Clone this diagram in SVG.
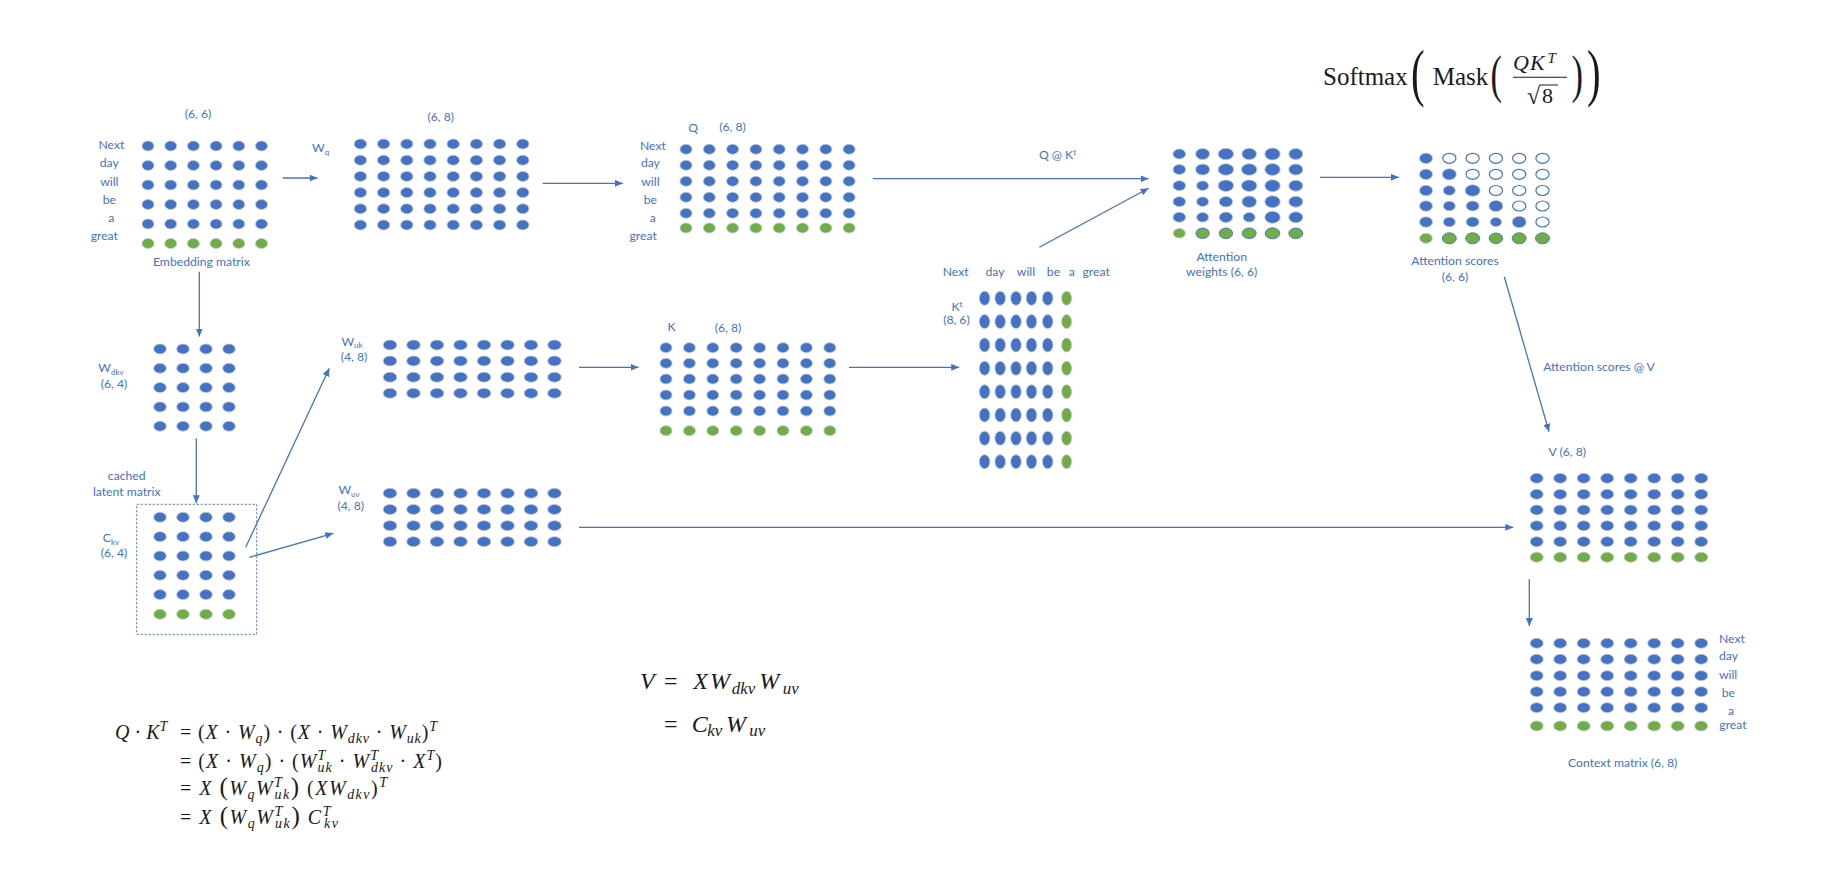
<svg xmlns="http://www.w3.org/2000/svg" xmlns:xlink="http://www.w3.org/1999/xlink" width="1833" height="883" viewBox="0 0 1833 883">
<style>
.t{font-family:Lato,"Open Sans","Liberation Sans",sans-serif;font-size:12.2px;fill:#4472C4}
.tm{text-anchor:middle}
.b{fill:#4472C4;stroke:#c3c8d0;stroke-width:.8}
.g{fill:#70AD47;stroke:#c3c8d0;stroke-width:.8}
.gb{fill:#70AD47;stroke:#4472C4;stroke-width:.9}
.o{fill:#fff;stroke:#4472C4;stroke-width:1.2}
.m{font-family:"Liberation Serif","DejaVu Serif",serif;fill:#1a1a1a}
.i{font-style:italic}
.c{stroke:#4472C4;stroke-width:1.3;fill:none;marker-end:url(#ah)}
</style>
<defs>
<marker id="ah" viewBox="0 0 8 7" refX="8" refY="3.5" markerWidth="8" markerHeight="7" markerUnits="userSpaceOnUse" orient="auto"><path d="M0,0 L8,3.5 L0,7 z" fill="#4472C4"/></marker>
<g id="e6"><ellipse cx="148" cy="0" rx="6" ry="5"/><ellipse cx="170.7" cy="0" rx="6" ry="5"/><ellipse cx="193.4" cy="0" rx="6" ry="5"/><ellipse cx="216.1" cy="0" rx="6" ry="5"/><ellipse cx="238.8" cy="0" rx="6" ry="5"/><ellipse cx="261.5" cy="0" rx="6" ry="5"/></g>
<g id="wq8"><ellipse cx="360.4" cy="0" rx="6.2" ry="5"/><ellipse cx="383.6" cy="0" rx="6.2" ry="5"/><ellipse cx="406.8" cy="0" rx="6.2" ry="5"/><ellipse cx="430" cy="0" rx="6.2" ry="5"/><ellipse cx="453.2" cy="0" rx="6.2" ry="5"/><ellipse cx="476.4" cy="0" rx="6.2" ry="5"/><ellipse cx="499.6" cy="0" rx="6.2" ry="5"/><ellipse cx="522.8" cy="0" rx="6.2" ry="5"/></g>
<g id="q8"><ellipse cx="686" cy="0" rx="6" ry="5"/><ellipse cx="709.3" cy="0" rx="6" ry="5"/><ellipse cx="732.6" cy="0" rx="6" ry="5"/><ellipse cx="755.9" cy="0" rx="6" ry="5"/><ellipse cx="779.2" cy="0" rx="6" ry="5"/><ellipse cx="802.5" cy="0" rx="6" ry="5"/><ellipse cx="825.8" cy="0" rx="6" ry="5"/><ellipse cx="849.1" cy="0" rx="6" ry="5"/></g>
<g id="d4"><ellipse cx="160" cy="0" rx="6.3" ry="5"/><ellipse cx="183" cy="0" rx="6.3" ry="5"/><ellipse cx="206" cy="0" rx="6.3" ry="5"/><ellipse cx="229" cy="0" rx="6.3" ry="5"/></g>
<g id="u8"><ellipse cx="390" cy="0" rx="6.8" ry="5"/><ellipse cx="413.5" cy="0" rx="6.8" ry="5"/><ellipse cx="437" cy="0" rx="6.8" ry="5"/><ellipse cx="460.5" cy="0" rx="6.8" ry="5"/><ellipse cx="484" cy="0" rx="6.8" ry="5"/><ellipse cx="507.5" cy="0" rx="6.8" ry="5"/><ellipse cx="531" cy="0" rx="6.8" ry="5"/><ellipse cx="554.5" cy="0" rx="6.8" ry="5"/></g>
<g id="k8"><ellipse cx="666" cy="0" rx="6" ry="5"/><ellipse cx="689.4" cy="0" rx="6" ry="5"/><ellipse cx="712.8" cy="0" rx="6" ry="5"/><ellipse cx="736.2" cy="0" rx="6" ry="5"/><ellipse cx="759.6" cy="0" rx="6" ry="5"/><ellipse cx="783" cy="0" rx="6" ry="5"/><ellipse cx="806.4" cy="0" rx="6" ry="5"/><ellipse cx="829.8" cy="0" rx="6" ry="5"/></g>
<g id="kt5"><ellipse cx="984.6" cy="0" rx="5.3" ry="7"/><ellipse cx="1000.2" cy="0" rx="5.3" ry="7"/><ellipse cx="1016" cy="0" rx="5.3" ry="7"/><ellipse cx="1031.5" cy="0" rx="5.3" ry="7"/><ellipse cx="1047.7" cy="0" rx="5.3" ry="7"/></g>
<g id="v8"><ellipse cx="1536.7" cy="0" rx="6.5" ry="5"/><ellipse cx="1560.2" cy="0" rx="6.5" ry="5"/><ellipse cx="1583.7" cy="0" rx="6.5" ry="5"/><ellipse cx="1607.2" cy="0" rx="6.5" ry="5"/><ellipse cx="1630.7" cy="0" rx="6.5" ry="5"/><ellipse cx="1654.2" cy="0" rx="6.5" ry="5"/><ellipse cx="1677.7" cy="0" rx="6.5" ry="5"/><ellipse cx="1701.2" cy="0" rx="6.5" ry="5"/></g>
</defs>

<rect width="1833" height="883" fill="#fff"/>

<g id="embedding">
<text class="t tm" x="198" y="118">(6, 6)</text>
<text class="t tm" x="111.4" y="149">Next</text>
<text class="t tm" x="109.3" y="167">day</text>
<text class="t tm" x="109.3" y="186">will</text>
<text class="t tm" x="109.3" y="204">be</text>
<text class="t tm" x="111.4" y="222">a</text>
<text class="t tm" x="104.3" y="240">great</text>
<use href="#e6" y="146" class="b"/><use href="#e6" y="165.5" class="b"/><use href="#e6" y="185" class="b"/><use href="#e6" y="204.5" class="b"/><use href="#e6" y="224" class="b"/><use href="#e6" y="243.5" class="g"/>
<text class="t tm" x="201.4" y="265.7">Embedding matrix</text>
</g>

<g id="wq">
<text class="t" x="312" y="152">W<tspan font-size="8" dy="2.5">q</tspan></text>
<text class="t tm" x="440.7" y="121">(6, 8)</text>
<use href="#wq8" y="144" class="b"/><use href="#wq8" y="160.2" class="b"/><use href="#wq8" y="176.4" class="b"/><use href="#wq8" y="192.6" class="b"/><use href="#wq8" y="208.8" class="b"/><use href="#wq8" y="225" class="b"/>
</g>

<g id="q">
<text class="t tm" x="693.2" y="132">Q</text>
<text class="t tm" x="732.5" y="131">(6, 8)</text>
<text class="t tm" x="652.9" y="150">Next</text>
<text class="t tm" x="650.4" y="167">day</text>
<text class="t tm" x="650.4" y="185.7">will</text>
<text class="t tm" x="650.4" y="204">be</text>
<text class="t tm" x="652.9" y="222">a</text>
<text class="t tm" x="643.2" y="240">great</text>
<use href="#q8" y="149.3" class="b"/><use href="#q8" y="165.3" class="b"/><use href="#q8" y="181.3" class="b"/><use href="#q8" y="197.3" class="b"/><use href="#q8" y="213.3" class="b"/><use href="#q8" y="228" class="g"/>
</g>

<g id="attention-weights">
<ellipse class="b" cx="1179.3" cy="154" rx="6.3" ry="5"/><ellipse class="b" cx="1202.6" cy="154" rx="7" ry="5.5"/><ellipse class="b" cx="1225.9" cy="154" rx="7.7" ry="5.8"/><ellipse class="b" cx="1249.2" cy="154" rx="7.3" ry="5.8"/><ellipse class="b" cx="1272.5" cy="154" rx="7.7" ry="6"/><ellipse class="b" cx="1295.8" cy="154" rx="7" ry="5.5"/>
<ellipse class="b" cx="1179.3" cy="169.5" rx="6.3" ry="5"/><ellipse class="b" cx="1202.6" cy="169.5" rx="7" ry="5.5"/><ellipse class="b" cx="1225.9" cy="169.5" rx="7.7" ry="5.8"/><ellipse class="b" cx="1249.2" cy="169.5" rx="7.7" ry="5.8"/><ellipse class="b" cx="1272.5" cy="169.5" rx="7.7" ry="6"/><ellipse class="b" cx="1295.8" cy="169.5" rx="7" ry="5.5"/>
<ellipse class="b" cx="1179.3" cy="185.7" rx="6.3" ry="5"/><ellipse class="b" cx="1202.6" cy="185.7" rx="6" ry="4.8"/><ellipse class="b" cx="1225.9" cy="185.7" rx="7.7" ry="5.8"/><ellipse class="b" cx="1249.2" cy="185.7" rx="7.7" ry="5.8"/><ellipse class="b" cx="1272.5" cy="185.7" rx="7.7" ry="6"/><ellipse class="b" cx="1295.8" cy="185.7" rx="7" ry="5.5"/>
<ellipse class="b" cx="1179.3" cy="201.7" rx="6.3" ry="5"/><ellipse class="b" cx="1202.6" cy="201.7" rx="6" ry="4.8"/><ellipse class="b" cx="1225.9" cy="201.7" rx="6.7" ry="5.2"/><ellipse class="b" cx="1249.2" cy="201.7" rx="7.3" ry="5.8"/><ellipse class="b" cx="1272.5" cy="201.7" rx="7.7" ry="6"/><ellipse class="b" cx="1295.8" cy="201.7" rx="7" ry="5.5"/>
<ellipse class="b" cx="1179.3" cy="217.3" rx="6.3" ry="5"/><ellipse class="b" cx="1202.6" cy="217.3" rx="6" ry="4.8"/><ellipse class="b" cx="1225.9" cy="217.3" rx="6.7" ry="5.2"/><ellipse class="b" cx="1249.2" cy="217.3" rx="6" ry="4.8"/><ellipse class="b" cx="1272.5" cy="217.3" rx="7.7" ry="6"/><ellipse class="b" cx="1295.8" cy="217.3" rx="7" ry="5.5"/>
<ellipse class="g" cx="1179.3" cy="233.3" rx="6" ry="4.8"/><ellipse class="gb" cx="1202.6" cy="233.3" rx="6.7" ry="5.2"/><ellipse class="gb" cx="1225.9" cy="233.3" rx="6.7" ry="5.3"/><ellipse class="gb" cx="1249.2" cy="233.3" rx="7" ry="5.3"/><ellipse class="gb" cx="1272.5" cy="233.3" rx="7.3" ry="5.5"/><ellipse class="gb" cx="1295.8" cy="233.3" rx="7" ry="5.3"/>
<text class="t tm" x="1221.7" y="260.7">Attention</text>
<text class="t tm" x="1221.7" y="276.3">weights (6, 6)</text>
</g>

<g id="attention-scores">
<ellipse class="b" cx="1426" cy="158.3" rx="6.5" ry="5.2"/><ellipse class="o" cx="1449.3" cy="158.3" rx="6.6" ry="5"/><ellipse class="o" cx="1472.6" cy="158.3" rx="6.6" ry="5"/><ellipse class="o" cx="1495.9" cy="158.3" rx="6.6" ry="5"/><ellipse class="o" cx="1519.2" cy="158.3" rx="6.6" ry="5"/><ellipse class="o" cx="1542.5" cy="158.3" rx="6.6" ry="5"/>
<ellipse class="b" cx="1426" cy="174.3" rx="6.5" ry="5.2"/><ellipse class="b" cx="1449.3" cy="174.3" rx="7" ry="5.6"/><ellipse class="o" cx="1472.6" cy="174.3" rx="6.6" ry="5"/><ellipse class="o" cx="1495.9" cy="174.3" rx="6.6" ry="5"/><ellipse class="o" cx="1519.2" cy="174.3" rx="6.6" ry="5"/><ellipse class="o" cx="1542.5" cy="174.3" rx="6.6" ry="5"/>
<ellipse class="b" cx="1426" cy="190.5" rx="6.5" ry="5.2"/><ellipse class="b" cx="1449.3" cy="190.5" rx="6" ry="4.8"/><ellipse class="b" cx="1472.6" cy="190.5" rx="7.5" ry="5.8"/><ellipse class="o" cx="1495.9" cy="190.5" rx="6.6" ry="5"/><ellipse class="o" cx="1519.2" cy="190.5" rx="6.6" ry="5"/><ellipse class="o" cx="1542.5" cy="190.5" rx="6.6" ry="5"/>
<ellipse class="b" cx="1426" cy="206" rx="6.5" ry="5.2"/><ellipse class="b" cx="1449.3" cy="206" rx="6" ry="4.8"/><ellipse class="b" cx="1472.6" cy="206" rx="6.5" ry="5"/><ellipse class="b" cx="1495.9" cy="206" rx="7" ry="5.6"/><ellipse class="o" cx="1519.2" cy="206" rx="6.6" ry="5"/><ellipse class="o" cx="1542.5" cy="206" rx="6.6" ry="5"/>
<ellipse class="b" cx="1426" cy="222" rx="6.5" ry="5.2"/><ellipse class="b" cx="1449.3" cy="222" rx="6" ry="4.8"/><ellipse class="b" cx="1472.6" cy="222" rx="6.5" ry="5"/><ellipse class="b" cx="1495.9" cy="222" rx="5.7" ry="4.6"/><ellipse class="b" cx="1519.2" cy="222" rx="7" ry="5.8"/><ellipse class="o" cx="1542.5" cy="222" rx="6.6" ry="5"/>
<ellipse class="g" cx="1426" cy="238.3" rx="6.3" ry="5"/><ellipse class="gb" cx="1449.3" cy="238.3" rx="7" ry="5.5"/><ellipse class="gb" cx="1472.6" cy="238.3" rx="7" ry="5.5"/><ellipse class="gb" cx="1495.9" cy="238.3" rx="6.7" ry="5.3"/><ellipse class="gb" cx="1519.2" cy="238.3" rx="7" ry="5.5"/><ellipse class="gb" cx="1542.5" cy="238.3" rx="7" ry="5.5"/>
<text class="t tm" x="1455" y="265">Attention scores</text>
<text class="t tm" x="1455" y="281.3">(6, 6)</text>
</g>

<g id="softmax-formula" class="m">
<text x="1323" y="85" font-size="25">Softmax</text>
<text transform="translate(1411,93.5) scale(0.65,1)" font-size="63">(</text>
<text x="1432.7" y="85" font-size="25">Mask</text>
<text transform="translate(1490.5,91.6) scale(0.65,1)" font-size="53">(</text>
<text class="i" x="1513" y="70" font-size="22">Q</text>
<text class="i" x="1530" y="70" font-size="22">K</text>
<text class="i" x="1547.5" y="63" font-size="15">T</text>
<line x1="1513" y1="77.3" x2="1567" y2="77.3" stroke="#1a1a1a" stroke-width="1.1"/>
<text x="1527" y="104" font-size="24">√</text>
<line x1="1540" y1="85" x2="1558" y2="85" stroke="#1a1a1a" stroke-width="1"/>
<text x="1542" y="103.3" font-size="22">8</text>
<text transform="translate(1571.5,91.6) scale(0.65,1)" font-size="53">)</text>
<text transform="translate(1587,93.5) scale(0.65,1)" font-size="63">)</text>
</g>

<g id="wdkv">
<text class="t tm" x="111" y="372.3">W<tspan font-size="8" dy="2.5">dkv</tspan></text>
<text class="t tm" x="114" y="388.3">(6, 4)</text>
<use href="#d4" y="349" class="b"/><use href="#d4" y="368.3" class="b"/><use href="#d4" y="387.6" class="b"/><use href="#d4" y="406.9" class="b"/><use href="#d4" y="426.2" class="b"/>
</g>

<g id="ckv">
<text class="t tm" x="126.7" y="480">cached</text>
<text class="t tm" x="126.7" y="496">latent matrix</text>
<rect x="136.7" y="504.3" width="120" height="130" fill="none" stroke="#4472C4" stroke-width="1" stroke-dasharray="2,2"/>
<text class="t tm" x="111" y="542.3">C<tspan font-size="8" dy="2.5">kv</tspan></text>
<text class="t tm" x="114" y="557.3">(6, 4)</text>
<use href="#d4" y="517.3" class="b"/><use href="#d4" y="536.7" class="b"/><use href="#d4" y="556" class="b"/><use href="#d4" y="575.3" class="b"/><use href="#d4" y="594.6" class="b"/><use href="#d4" y="614.3" class="g"/>
</g>

<g id="wuk">
<text class="t tm" x="352" y="345.7">W<tspan font-size="8" dy="2.5">uk</tspan></text>
<text class="t tm" x="354" y="361.3">(4, 8)</text>
<use href="#u8" y="345" class="b"/><use href="#u8" y="361" class="b"/><use href="#u8" y="377.2" class="b"/><use href="#u8" y="393.3" class="b"/>
</g>

<g id="wuv">
<text class="t tm" x="349" y="494">W<tspan font-size="8" dy="2.5">uv</tspan></text>
<text class="t tm" x="350.7" y="510">(4, 8)</text>
<use href="#u8" y="493.3" class="b"/><use href="#u8" y="509.5" class="b"/><use href="#u8" y="525.7" class="b"/><use href="#u8" y="541.7" class="b"/>
</g>

<g id="k">
<text class="t tm" x="671.6" y="330.7">K</text>
<text class="t tm" x="728.1" y="331.7">(6, 8)</text>
<use href="#k8" y="347.7" class="b"/><use href="#k8" y="363.3" class="b"/><use href="#k8" y="379" class="b"/><use href="#k8" y="395" class="b"/><use href="#k8" y="411" class="b"/><use href="#k8" y="430.7" class="g"/>
</g>

<g id="kt">
<text class="t tm" x="955.7" y="276.3">Next</text>
<text class="t tm" x="995" y="276.3">day</text>
<text class="t tm" x="1026" y="276.3">will</text>
<text class="t tm" x="1053.5" y="276.3">be</text>
<text class="t tm" x="1071.8" y="276.3">a</text>
<text class="t tm" x="1096.2" y="276.3">great</text>
<text class="t tm" x="957" y="310.7">K<tspan font-size="8" dy="-4">t</tspan></text>
<text class="t tm" x="956.4" y="324">(8, 6)</text>
<use href="#kt5" y="298.3" class="b"/><use href="#kt5" y="321.6" class="b"/><use href="#kt5" y="345" class="b"/><use href="#kt5" y="368.3" class="b"/><use href="#kt5" y="391.7" class="b"/><use href="#kt5" y="415" class="b"/><use href="#kt5" y="438.3" class="b"/><use href="#kt5" y="461.7" class="b"/>
<ellipse class="g" cx="1066.6" cy="298.3" rx="5" ry="7"/><ellipse class="g" cx="1066.6" cy="321.6" rx="5" ry="7"/><ellipse class="g" cx="1066.6" cy="345" rx="5" ry="7"/><ellipse class="g" cx="1066.6" cy="368.3" rx="5" ry="7"/><ellipse class="g" cx="1066.6" cy="391.7" rx="5" ry="7"/><ellipse class="g" cx="1066.6" cy="415" rx="5" ry="7"/><ellipse class="g" cx="1066.6" cy="438.3" rx="5" ry="7"/><ellipse class="g" cx="1066.6" cy="461.7" rx="5" ry="7"/>
</g>

<g id="v">
<text class="t tm" x="1567.3" y="456.3">V (6, 8)</text>
<use href="#v8" y="478.3" class="b"/><use href="#v8" y="494.3" class="b"/><use href="#v8" y="510" class="b"/><use href="#v8" y="525.8" class="b"/><use href="#v8" y="541.7" class="b"/><use href="#v8" y="557.3" class="g"/>
</g>

<g id="context">
<use href="#v8" y="643.3" class="b"/><use href="#v8" y="659.3" class="b"/><use href="#v8" y="675.7" class="b"/><use href="#v8" y="691.7" class="b"/><use href="#v8" y="707.7" class="b"/><use href="#v8" y="726" class="g"/>
<text class="t" x="1719" y="643">Next</text>
<text class="t" x="1719" y="660">day</text>
<text class="t" x="1719" y="679">will</text>
<text class="t" x="1721.7" y="696.7">be</text>
<text class="t" x="1728" y="715">a</text>
<text class="t" x="1719.3" y="729">great</text>
<text class="t tm" x="1622.7" y="766.7">Context matrix (6, 8)</text>
</g>

<g id="qk-formula" class="m" font-size="20">
<text x="115" y="739"><tspan class="i">Q</tspan> · <tspan class="i">K</tspan><tspan class="i" font-size="14" dy="-8">T</tspan></text>
<text x="180" y="739" textLength="257" lengthAdjust="spacing">= (<tspan class="i">X</tspan> · <tspan class="i">W</tspan><tspan class="i" font-size="14" dy="4">q</tspan><tspan dy="-4">) · (</tspan><tspan class="i">X</tspan> · <tspan class="i">W</tspan><tspan class="i" font-size="14" dy="4">dkv</tspan><tspan dy="-4"> · </tspan><tspan class="i">W</tspan><tspan class="i" font-size="14" dy="4">uk</tspan><tspan dy="-4">)</tspan><tspan class="i" font-size="14" dy="-8">T</tspan></text>
<text x="180" y="768" textLength="262" lengthAdjust="spacing">= (<tspan class="i">X</tspan> · <tspan class="i">W</tspan><tspan class="i" font-size="14" dy="4">q</tspan><tspan dy="-4">) · (</tspan><tspan class="i">W</tspan><tspan class="i" font-size="14" dy="-8">T</tspan><tspan class="i" font-size="14" dx="-8" dy="12">uk</tspan><tspan dy="-4"> · </tspan><tspan class="i">W</tspan><tspan class="i" font-size="14" dy="-8">T</tspan><tspan class="i" font-size="14" dx="-8" dy="12">dkv</tspan><tspan dy="-4"> · </tspan><tspan class="i">X</tspan><tspan class="i" font-size="14" dy="-8">T</tspan><tspan dy="8">)</tspan></text>
<text x="180" y="795" textLength="207" lengthAdjust="spacing">= <tspan class="i">X</tspan> <tspan font-size="25">(</tspan><tspan class="i">W</tspan><tspan class="i" font-size="14" dy="4">q</tspan><tspan class="i" dy="-4">W</tspan><tspan class="i" font-size="14" dy="-8">T</tspan><tspan class="i" font-size="14" dx="-8" dy="12">uk</tspan><tspan font-size="25" dy="-4">)</tspan> (<tspan class="i">XW</tspan><tspan class="i" font-size="14" dy="4">dkv</tspan><tspan dy="-4">)</tspan><tspan class="i" font-size="14" dy="-8">T</tspan></text>
<text x="180" y="824" textLength="158" lengthAdjust="spacing">= <tspan class="i">X</tspan> <tspan font-size="25">(</tspan><tspan class="i">W</tspan><tspan class="i" font-size="14" dy="4">q</tspan><tspan class="i" dy="-4">W</tspan><tspan class="i" font-size="14" dy="-8">T</tspan><tspan class="i" font-size="14" dx="-8" dy="12">uk</tspan><tspan font-size="25" dy="-4">)</tspan> <tspan class="i">C</tspan><tspan class="i" font-size="14" dy="-8">T</tspan><tspan class="i" font-size="14" dx="-8" dy="12">kv</tspan></text>
</g>

<g id="v-formula" class="m" font-size="24">
<text class="i" x="640" y="689.3">V</text>
<text x="664" y="689.3">=</text>
<text class="i" x="693.3" y="689.3">X</text>
<text class="i" x="710" y="689.3">W</text>
<text class="i" x="731.7" y="694" font-size="17">dkv</text>
<text class="i" x="759.3" y="689.3">W</text>
<text class="i" x="782.7" y="694" font-size="17">uv</text>
<text x="664" y="731.7">=</text>
<text class="i" x="691.7" y="731.7">C</text>
<text class="i" x="707.3" y="736.4" font-size="17">kv</text>
<text class="i" x="726" y="731.7">W</text>
<text class="i" x="749.3" y="736.4" font-size="17">uv</text>
</g>

<g id="connectors">
<line class="c" x1="282.9" y1="178" x2="317.5" y2="178"/>
<line class="c" x1="542.5" y1="183.3" x2="622.9" y2="183.3"/>
<line class="c" x1="872.9" y1="178.7" x2="1148.6" y2="178.7"/>
<line class="c" x1="1039.3" y1="247.3" x2="1148.6" y2="188.3"/>
<line class="c" x1="1320" y1="177.3" x2="1399" y2="177.3"/>
<line class="c" x1="199.3" y1="271.7" x2="199.3" y2="336.5"/>
<line class="c" x1="196.3" y1="438.3" x2="196.3" y2="503.3"/>
<line class="c" x1="245.7" y1="547.3" x2="329.3" y2="368.3"/>
<line class="c" x1="249.3" y1="557.3" x2="333.3" y2="533.3"/>
<line class="c" x1="579" y1="367.3" x2="638.6" y2="367.3"/>
<line class="c" x1="849" y1="367.3" x2="959.2" y2="367.3"/>
<line class="c" x1="579" y1="527.3" x2="1513.3" y2="527.3"/>
<line class="c" x1="1504.3" y1="276.7" x2="1549" y2="431.7"/>
<line class="c" x1="1529.3" y1="579.3" x2="1529.3" y2="626"/>
<text class="t tm" x="1057.5" y="159">Q @ K<tspan font-size="8" dy="-4">t</tspan></text>
<text class="t tm" x="1599" y="371">Attention scores @ V</text>
</g>
</svg>
